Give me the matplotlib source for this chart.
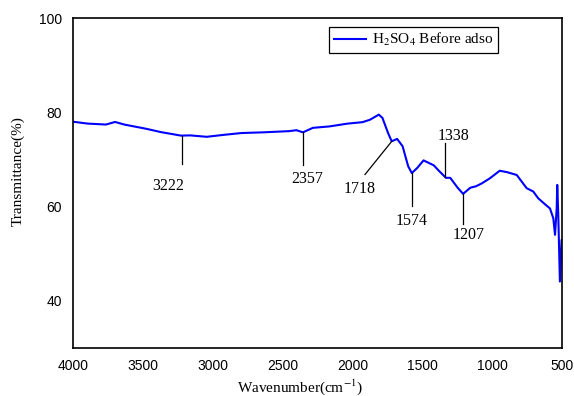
import numpy as np
import matplotlib
matplotlib.use('Agg')
import matplotlib.pyplot as plt

plt.rcParams['mathtext.fontset'] = 'stix'

# FTIR spectrum
wavenumber = [4000, 3895, 3764, 3699, 3633, 3476, 3371, 3227, 3161, 3043, 2925, 2794,
              2637, 2453, 2401, 2354, 2283, 2165, 2034, 1929, 1876, 1811, 1785, 1745,
              1719, 1680, 1641, 1601, 1575, 1536, 1491, 1418, 1378, 1331, 1300, 1247,
              1208, 1156, 1116, 1075, 1016, 946, 893, 824, 753, 706, 670, 622, 586,
              562, 550, 538, 534, 527, 515, 503, 500]
transmittance = [78.0, 77.6, 77.4, 77.95, 77.4, 76.5, 75.8, 75.05, 75.1, 74.8, 75.2, 75.6,
                 75.75, 76.0, 76.2, 75.75, 76.7, 77.0, 77.6, 77.9, 78.4, 79.5, 78.8, 75.6,
                 73.85, 74.35, 72.8, 68.55, 67.1, 68.2, 69.8, 68.75, 67.5, 66.1, 66.1, 64.0,
                 62.7, 64.0, 64.3, 64.9, 66.0, 67.6, 67.3, 66.7, 63.9, 63.2, 61.75, 60.5, 59.6,
                 57.5, 54.0, 59.6, 64.6, 58.6, 44.1, 52.9, 53.0]

peaks = [3222, 2357, 1718, 1574, 1207, 1338]
peak_labels = ['3222', '2357', '1718', '1574', '1207', '1338']

# where each marker line ends and where its label sits
line_ends = [(3222, 69.0), (2357, 68.9), (1910, 66.8), (1574, 60.1), (1207, 56.2), (1338, 73.5)]
label_pos = [(3318, 64.3), (2322, 65.9), (1947, 63.75), (1575, 56.95), (1169, 53.9), (1273, 74.9)]

fig = plt.figure(figsize=(5.74, 3.96), dpi=100)
ax = fig.add_axes([73/574, 48/396, 489/574, 330/396])

ax.plot(wavenumber, transmittance, color='#0000ff', lw=1.5, label='H$_2$SO$_4$ Before adso')

for p, lab, (ex, ey), (tx, ty) in zip(peaks, peak_labels, line_ends, label_pos):
    py = np.interp(p, wavenumber[::-1], transmittance[::-1])
    ax.plot([p, ex], [py, ey], color='black', lw=0.9)
    ax.text(tx, ty, lab, ha='center', va='center', family='Liberation Serif', fontsize=11.5)

ax.set_xlim(4000, 500)
ax.set_ylim(30, 100)
ax.set_xticks(range(4000, 499, -500))
ax.set_yticks([40, 60, 80, 100])
ax.tick_params(length=0, labelsize=10, pad=8)
for t in ax.get_xticklabels() + ax.get_yticklabels():
    t.set_family('Liberation Sans')
for s in ax.spines.values():
    s.set_linewidth(1.2)

fig.text(300/574, 1 - 387/396, 'Wavenumber(cm$^{-1}$)', family='Liberation Serif',
         fontsize=11, ha='center', va='center')
fig.text(18/574, 1 - 171/396, 'Transmittance(%)', family='Liberation Serif',
         fontsize=11, ha='center', va='center', rotation=90)

leg = ax.legend(loc='upper left', bbox_to_anchor=(0.5235, 0.9736), borderaxespad=0,
                fancybox=False, edgecolor='black', framealpha=1, handlelength=2.1,
                handletextpad=0.4, prop={'family': 'Liberation Serif', 'size': 11},
                borderpad=0.3)
leg.get_frame().set_linewidth(0.9)

fig.savefig('out.png', dpi=100)
